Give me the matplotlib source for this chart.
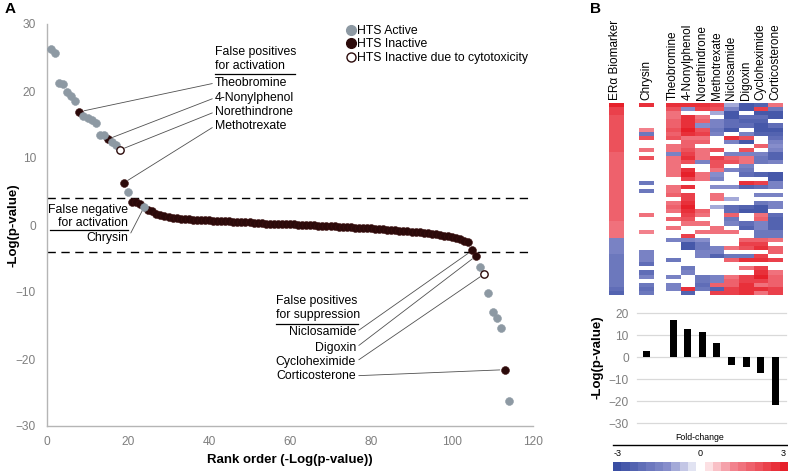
import numpy as np
import matplotlib
matplotlib.use("Agg")  # no display in the sandbox
import matplotlib.pyplot as plt
from matplotlib.colors import LinearSegmentedColormap, Normalize
from matplotlib.lines import Line2D
from matplotlib.cm import ScalarMappable

plt.rcParams["font.family"] = ["Liberation Sans", "DejaVu Sans"]

# ---- panel A: rank-ordered -log(p) for 114 compounds
neglogp_top = [26.2, 25.7, 21.2, 21.0, 19.9, 19.3, 18.5, 16.9, 16.2, 16.0, 15.6, 15.2,
               13.4, 13.4, 12.8, 12.4, 12.0, 11.2, 6.3, 5.0, 3.5, 3.4, 3.1, 2.7]
neglogp_mid = [2.3, 2.1, 1.7, 1.5, 1.3, 1.2, 1.1, 1.0, 0.95, 0.9, 0.85, 0.8, 0.8,
               0.75, 0.7, 0.7, 0.65, 0.6, 0.6, 0.55, 0.55, 0.5, 0.5, 0.5, 0.45, 0.45,
               0.3, 0.25, 0.25, 0.2, 0.2, 0.2, 0.15, 0.15, 0.1, 0.1, 0.1, 0.05, 0.05, 0.0,
               -0.05, -0.05, -0.1, -0.1, -0.15, -0.15, -0.2, -0.25, -0.25, -0.3, -0.35,
               -0.4, -0.4, -0.45, -0.5, -0.5, -0.55, -0.6, -0.65, -0.7, -0.75, -0.8, -0.85,
               -0.9, -0.95, -1.0, -1.05, -1.1, -1.15, -1.2, -1.3, -1.4, -1.5,
               -1.6, -1.7, -1.85, -2.0, -2.15, -2.35, -2.6]
neglogp_bottom = [-3.8, -4.6, -6.2, -7.3, -10.2, -13.0, -13.9, -15.3, -21.6, -26.3]
neglogp = np.array(neglogp_top + neglogp_mid + neglogp_bottom)
rank = np.arange(1, len(neglogp) + 1)

active_ranks = [1, 2, 3, 4, 5, 6, 7, 9, 10, 11, 12, 13, 14, 16, 17, 20, 24,
                107, 109, 110, 111, 112, 114]
cytotox_ranks = [18, 108]
threshold = 4.0

act_names = ["Theobromine", "4-Nonylphenol", "Norethindrone", "Methotrexate"]
act_ranks = [8, 15, 18, 19]
neg_name, neg_rank = "Chrysin", 24
sup_names = ["Niclosamide", "Digoxin", "Cycloheximide", "Corticosterone"]
sup_ranks = [105, 106, 108, 113]

# ---- panel B: fold-change heatmap (47 biomarker genes)
era_fc = [2.8, 2.4, 2.2, 2.1, 2.1, 2.0, 2.0, 2.0, 1.9, 1.9, 1.9, 1.9, 1.8, 1.8, 1.8, 1.8,
          1.8, 1.7, 1.7, 1.7, 1.7, 1.7, 1.7, 1.6, 1.6, 1.6, 1.6, 1.6, 1.6, 1.5, 1.5, 1.5, 1.5,
          -1.5, -1.5, -1.5, -1.5, -1.6, -1.6, -1.6, -1.6, -1.7, -1.7, -1.7, -1.8, -1.9, -2.4]
chrysin_fc = [2.5, 0, 0, 0, 0, 0, 1.2, -1.6, 2.0, 0, 0, 1.3, 0, 2.0, 0, 0, 0, 0, 0, -1.6,
              0, -1.6, 0, 0, 0, 0, 0, 1.4, 0, 0, 0, 1.2, 0, 0, 0, 0, -1.3, -1.3, -1.3, -1.9,
              0, -2.1, -1.4, 0, -1.6, -2.0, -1.6]
compounds = ["Theobromine", "4-Nonylphenol", "Norethindrone", "Methotrexate",
             "Niclosamide", "Digoxin", "Cycloheximide", "Corticosterone"]
compound_fc = [
    [2.5, 2.5, 2.5, 2.3, -1.0, -2.5, -2.3, 1.3],
    [2.0, -1.2, 2.3, 2.0, -1.5, -2.5, 2.3, -1.8],
    [1.5, 0, 0, -1.0, -2.5, 0, -2.5, -2.5],
    [1.5, 2.5, 1.4, 0, -2.5, -2.0, -2.0, -2.5],
    [1.6, 2.6, 1.6, -1.5, -2.0, -2.2, -2.2, 0],
    [1.8, 2.7, -1.2, -1.5, -2.0, -2.0, -2.5, -2.0],
    [2.0, 2.8, 2.0, -1.8, -2.6, 0, -2.5, -2.6],
    [1.8, 2.7, 2.4, -1.3, 0, -1.5, -2.3, -2.3],
    [2.0, 1.5, 1.3, 0, 2.5, 2.0, 0, -2.0],
    [0, 1.6, 1.8, 0, -1.3, -2.5, 0, -1.5],
    [1.4, 1.6, 0, 0, 0, 0, 1.8, -1.2],
    [1.5, 2.0, 1.3, 2.0, 0, 2.0, 0, -1.5],
    [-1.3, 2.2, 1.4, 0, -1.3, -1.5, -1.3, -2.2],
    [1.5, 2.6, 1.3, 2.2, 1.6, 1.5, -1.8, -2.4],
    [1.4, 2.0, -1.3, 2.0, 2.0, 1.5, -1.6, -1.5],
    [1.5, 0, 0, 2.1, 0, -1.5, 0, 0],
    [1.3, 2.7, 0, 1.3, -1.4, -1.8, 0, 0],
    [1.5, 2.8, 1.5, -1.2, 0, -2.0, -2.2, -2.5],
    [0, 2.2, 1.3, -1.3, 0, 0, 0, -2.5],
    [0, 0, 0, 0, 0, 2.5, 2.4, -1.3],
    [1.4, 2.6, 0, -1.2, -1.2, -2.2, -2.0, -1.5],
    [1.3, 0, 0, 0, 0, 0, 0, 0],
    [1.6, 2.2, 0, 1.4, 0, 0, -1.4, -1.5],
    [0, 2.3, 0, 1.3, -1.0, 0, 0, 0],
    [1.4, 2.6, 0, 0, 0, 0, -1.8, -1.5],
    [1.6, 2.8, 0, -1.0, -2.0, -2.3, -2.6, -1.5],
    [1.3, 2.6, 1.6, 0, -2.0, -2.5, -2.6, 0],
    [0, 2.3, 1.5, 0, 1.8, 0, 1.5, -2.0],
    [1.6, 2.0, 0, 0, -1.6, 0, 1.8, -2.4],
    [0, 1.5, 1.5, 0, -1.4, -2.0, -1.5, -2.2],
    [1.3, 0, 0, 1.4, 0, -2.4, -1.5, -2.3],
    [0, 0, 1.3, 1.4, 1.3, 0, -1.6, -1.6],
    [0, 2.4, 0, 0, 0, 0, -1.8, -1.8],
    [-1.3, -1.3, -1.2, 0, 0, 1.6, 1.8, 1.3],
    [0, -2.5, -1.6, 0, 0, 2.3, 2.2, 0],
    [0, -2.6, -1.6, -1.5, 1.4, 2.0, 2.6, 1.7],
    [0, 0, -1.5, -1.5, 0, 0, 0, 1.8],
    [0, 0, -1.3, -2.2, -1.6, -1.8, 2.2, 0],
    [-1.8, 0, 0, 0, 1.6, 2.6, 2.6, 2.4],
    [0, 0, 0, 0, 0, 0, 0, 0],
    [0, -1.8, 0, 0, 0, 1.5, 2.4, 0],
    [0, -1.4, 0, 0, 0, 0, 2.6, 1.5],
    [-1.5, 0, -1.8, -1.5, 1.5, 2.4, 2.8, 1.6],
    [0, 0, -1.6, -1.4, 1.6, 2.2, 2.4, 1.8],
    [-1.3, 0, -2.0, 1.6, 1.8, 2.6, 1.5, 1.6],
    [-1.4, 2.5, -1.8, -2.2, 2.2, 2.7, 2.5, 2.2],
    [0, -2.3, 0, 2.2, 2.4, 2.6, 1.3, 2.4],
]

GRAY = "#8d99a3"
DARK = "#2b0a0a"
TICK = "#7f7f7f"
LINE = "#505050"

fig = plt.figure(figsize=(7.88, 4.71), dpi=100)
W, H = 788, 471


def box(x0, y0, x1, y1):
    # pixel box (top-left origin) -> figure fraction rect
    return [x0 / W, 1 - y1 / H, (x1 - x0) / W, (y1 - y0) / H]


# ================= panel A =================
ax = fig.add_axes(box(47, 24, 533, 426))
status = np.array(["inactive"] * len(rank), dtype=object)
status[np.isin(rank, active_ranks)] = "active"
status[np.isin(rank, cytotox_ranks)] = "cytotox"

m = status == "inactive"
ax.scatter(rank[m], neglogp[m], s=32, color=DARK, edgecolor="#3d1010", lw=0.4, zorder=3)
m = status == "active"
ax.scatter(rank[m], neglogp[m], s=32, color=GRAY, edgecolor=GRAY, lw=0.4, zorder=3)
m = status == "cytotox"
ax.scatter(rank[m], neglogp[m], s=28, facecolor="white", edgecolor=DARK, lw=1.0, zorder=3)

for t in (threshold, -threshold):
    ax.axhline(t, color="black", lw=1.0, ls=(0, (6, 4)), zorder=1)

ax.set_xlim(0, 120)
ax.set_ylim(-30, 30)
ax.set_xticks(range(0, 121, 20))
ax.set_yticks(range(-30, 31, 10))
ax.tick_params(length=0, labelsize=8.6, colors=TICK)
ax.tick_params(axis="y", pad=8)
ax.tick_params(axis="x", pad=7)
for s in ("top", "right"):
    ax.spines[s].set_visible(False)
for s in ("left", "bottom"):
    ax.spines[s].set_color("#b5b5b5")
    ax.spines[s].set_linewidth(1.0)

fs = 8.8
arrow = dict(arrowstyle="-", color=LINE, lw=0.6, shrinkA=0, shrinkB=3.5)

# false positives for activation
ax.text(41.5, 25.8, "False positives", fontsize=fs, va="center")
ax.text(41.5, 23.7, "for activation", fontsize=fs, va="center")
ax.plot([41.5, 61.2], [22.5, 22.5], color="black", lw=0.9)
for name, r, ty in zip(act_names, act_ranks, [21.2, 19.0, 16.9, 14.8]):
    ax.annotate(name, xy=(r, neglogp[r - 1]), xytext=(41.5, ty), fontsize=fs,
                ha="left", va="center", arrowprops=dict(arrow, relpos=(0, 0.5)))

# false negative for activation
ax.text(20.0, 2.3, "False negative", fontsize=fs, ha="right", va="center")
ax.text(20.0, 0.3, "for activation", fontsize=fs, ha="right", va="center")
ax.plot([0.7, 20.0], [-0.75, -0.75], color="black", lw=0.9)
ax.annotate(neg_name, xy=(neg_rank, neglogp[neg_rank - 1]), xytext=(20.0, -2.0),
            fontsize=fs, ha="right", va="center",
            arrowprops=dict(arrow, relpos=(1, 0.5)))

# false positives for suppression
ax.text(56.5, -11.3, "False positives", fontsize=fs, va="center")
ax.text(56.5, -13.4, "for suppression", fontsize=fs, va="center")
ax.plot([56.5, 76.8], [-14.8, -14.8], color="black", lw=0.9)
for name, r, ty in zip(sup_names, sup_ranks, [-16.0, -18.3, -20.4, -22.5]):
    ax.annotate(name, xy=(r, neglogp[r - 1]), xytext=(76.3, ty), fontsize=fs,
                ha="right", va="center", arrowprops=dict(arrow, relpos=(1, 0.5)))

handles = [
    Line2D([], [], ls="", marker="o", ms=7, mfc=GRAY, mec=GRAY),
    Line2D([], [], ls="", marker="o", ms=7, mfc=DARK, mec=DARK),
    Line2D([], [], ls="", marker="o", ms=6.5, mfc="white", mec=DARK, mew=1.0),
]
fig.legend(handles, ["HTS Active", "HTS Inactive", "HTS Inactive due to cytotoxicity"],
           loc="upper left", bbox_to_anchor=(345 / W, 1 - 25 / H), frameon=False,
           fontsize=fs, handlelength=0.9, handletextpad=0.1, labelspacing=0.12,
           borderpad=0, borderaxespad=0)

fig.text(5 / W, 1 - 9 / H, "A", fontsize=11, fontweight="bold", va="center")
fig.text(14 / W, 1 - 225 / H, "-Log(p-value)", fontsize=9.5, fontweight="bold",
         rotation=90, ha="center", va="center")
fig.text(290 / W, 1 - 460 / H, "Rank order (-Log(p-value))", fontsize=9.5,
         fontweight="bold", ha="center", va="center")

# ================= panel B =================
cmap = LinearSegmentedColormap.from_list(
    "fc", [(0, "#3a4ea3"), (0.3, "#868dcb"), (0.5, "#ffffff"),
           (0.7, "#f2828d"), (1, "#e6202a")], N=21)
norm = Normalize(-3, 3)
n_rows = len(era_fc)

hax = fig.add_axes(box(605, 103, 786, 295))
kw = dict(cmap=cmap, norm=norm, aspect="auto", interpolation="nearest")
hax.imshow(np.array(era_fc)[:, None], extent=[-4.38, -3.36, n_rows, 0], **kw)
hax.imshow(np.array(chrysin_fc)[:, None], extent=[-2.33, -1.37, n_rows, 0], **kw)
hax.imshow(np.array(compound_fc), extent=[-0.5, 7.5, n_rows, 0], **kw)
hax.set_xlim(-4.66, 7.74)
hax.set_ylim(n_rows, 0)
hax.axis("off")

col_x = [-3.95, -1.85] + list(range(len(compounds)))
col_labels = ["ERα Biomarker", "Chrysin"] + compounds
for x, lab in zip(col_x, col_labels):
    hax.text(x, -0.7, lab, rotation=90, ha="center", va="bottom", fontsize=8.5)

bax = fig.add_axes(box(637, 313, 786, 423))
bar_x = [-1.85] + list(range(len(compounds)))
bar_ranks = [neg_rank] + act_ranks + sup_ranks
bar_vals = [neglogp[r - 1] for r in bar_ranks]
bax.bar(bar_x, bar_vals, width=0.48, color="black", zorder=3)
bax.set_xlim(-2.47, 7.74)
bax.set_ylim(-30, 20)
bax.set_yticks(range(-30, 21, 10))
bax.set_xticks([])
bax.grid(axis="y", color="#d9d9d9", lw=0.9)
for s in bax.spines.values():
    s.set_visible(False)
bax.tick_params(length=0, labelsize=8.6, colors=TICK, pad=6)
for gl in bax.get_ygridlines():
    gl.set_clip_on(False)

fig.text(598 / W, 1 - 357 / H, "-Log(p-value)", fontsize=9.5, fontweight="bold",
         rotation=90, ha="center", va="center")
fig.text(590 / W, 1 - 9 / H, "B", fontsize=11, fontweight="bold", va="center")

# colour key
cax = fig.add_axes(box(613, 462, 788, 471))
cb = fig.colorbar(ScalarMappable(norm=norm, cmap=cmap), cax=cax, orientation="horizontal")
cb.set_ticks([])
cb.outline.set_visible(False)
fig.text(700 / W, 1 - 438 / H, "Fold-change", fontsize=6.3, ha="center", va="center")
fig.add_artist(Line2D([613 / W, 1.0], [1 - 445 / H] * 2, color="black", lw=1.0))
fig.text(614 / W, 1 - 454 / H, "-3", fontsize=6.5, ha="left", va="center")
fig.text(700 / W, 1 - 454 / H, "0", fontsize=6.5, ha="center", va="center")
fig.text(783 / W, 1 - 454 / H, "3", fontsize=6.5, ha="center", va="center")

fig.savefig("out.png", dpi=100)
